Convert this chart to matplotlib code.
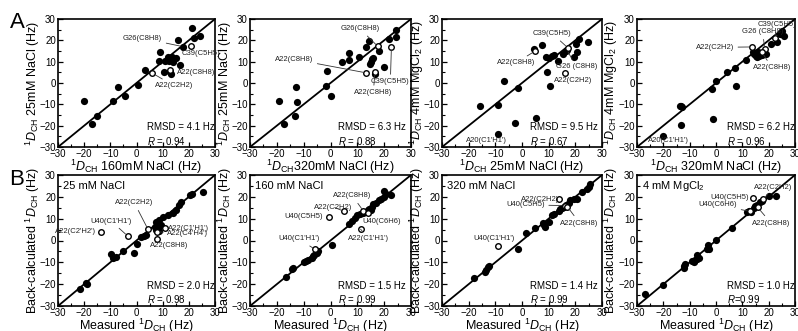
import matplotlib
matplotlib.use("Agg")
import matplotlib.pyplot as plt
from matplotlib.ticker import MultipleLocator

plt.rcParams['font.family'] = ['Liberation Sans', 'DejaVu Sans']
plt.rcParams['mathtext.fontset'] = 'custom'
plt.rcParams['mathtext.rm'] = 'Liberation Sans'
plt.rcParams['mathtext.it'] = 'Liberation Sans:italic'

# ---------------- data ----------------
# Panel A1: x = 160mM NaCl, y = 25mM NaCl
a1_x = [-20.2, -17.0, -15.0, -6.9, -9.1, -4.5, 0.4, 3.4, 9.1, 8.6, 10.6, 10.9, 11.9, 12.8, 13.2,
        13.4, 13.9, 12.4, 15.0, 16.6, 15.7, 17.9, 21.1, 22.1, 24.4]
a1_y = [-8.3, -19.4, -15.3, -1.7, -8.4, -5.9, -1.1, 6.1, 14.7, 10.5, 5.3, 10.3, 12.3, 5.0, 4.1,
        12.3, 10.0, 10.3, 11.6, 8.4, 20.2, 17.0, 25.6, 20.9, 22.2]
a1_open_x = [5.8, 12.7, 20.8]
a1_open_y = [4.8, 5.9, 17.5]

# Panel A2: x = 320mM NaCl, y = 25mM NaCl
a2_x = [-19.1, -17.5, -13.4, -12.7, -12.5, -1.3, -1.6, 0.1, 4.3, 7.0, 6.8, 10.6, 13.1, 14.2, 16.6,
        14.8, 15.5, 15.8, 15.1, 17.9, 20.0, 21.7, 24.4, 24.5]
a2_y = [-8.6, -19.4, -15.5, -2.1, -8.9, 5.5, -1.4, -6.1, 9.9, 10.6, 14.0, 12.2, 17.1, 19.7, 4.0,
        9.1, 11.1, 11.8, 10.0, 15.2, 7.5, 20.6, 24.9, 21.4]
a2_open_x = [13.1, 16.6, 17.6, 22.7]
a2_open_y = [4.8, 5.2, 17.2, 16.8]

# Panel A3: x = 25mM NaCl, y = 4mM MgCl2
a3_x = [-15.9, -9.1, -8.9, -6.6, -1.6, -2.5, 5.3, 4.5, 7.5, 9.5, 10.5, 9.1, 10.1, 11.4, 12.1,
        13.5, 15.4, 16.5, 16.8, 19.4, 20.1, 20.5, 21.4, 24.8]
a3_y = [-10.9, -10.2, -23.9, 0.8, -2.5, -18.9, -16.3, 15.8, 17.9, 5.0, -1.2, 12.3, 11.8, 12.7, 13.0,
        10.5, 13.8, 15.0, 15.6, 12.3, 18.1, 14.3, 20.7, 19.2]
a3_open_x = [4.8, 17.1, 16.3]
a3_open_y = [14.9, 16.6, 4.7]

# Panel A4: x = 320mM NaCl, y = 4mM MgCl2
a4_x = [-20.0, -13.4, -13.8, -12.8, -13.2, -1.1, -1.6, 0.1, 7.6, 7.2, 4.3, 11.5, 14.2, 14.5, 15.0,
        15.5, 16.5, 17.5, 16.0, 18.9, 21.0, 23.0, 25.2, 25.8, 24.3]
a4_y = [-25.0, -19.8, -10.9, -11.4, -10.6, -16.9, -3.0, 0.8, -1.5, 6.9, 5.1, 10.8, 14.6, 13.8, 12.8,
        12.3, 12.5, 13.3, 14.3, 13.8, 18.4, 19.2, 24.5, 21.9, 23.0]
a4_open_x = [13.8, 18.5, 17.5, 22.5]
a4_open_y = [16.9, 16.1, 14.3, 21.0]

# Panel B1: 25 mM NaCl, measured vs back-calculated
b1_x = [-21.5, -19.4, -19.0, -9.8, -8.8, -8.0, -5.3, -0.9, 0.0, 1.9, 2.8, 3.5, 6.9, 7.5, 8.5,
        9.4, 10.0, 11.9, 13.8, 15.0, 16.3, 16.9, 20.6, 21.3, 25.3, 7.5, 8.5]
b1_y = [-22.4, -19.4, -19.8, -6.4, -8.0, -7.5, -4.7, -5.7, -1.4, 1.4, 2.0, 2.5, 6.3, 8.6, 9.3,
        7.0, 10.6, 11.6, 12.4, 13.9, 16.2, 17.8, 20.8, 21.3, 22.0, 5.0, 4.5]
b1_open_x = [4.4, -3.4, -13.5, 10.9, 8.0, 7.9]
b1_open_y = [5.1, 2.1, 4.0, 5.8, 4.0, 0.8]

# Panel B2: 160 mM NaCl
b2_x = [-16.5, -14.5, -14.0, -10.0, -9.0, -8.5, -7.0, -6.5, -6.0, -5.0, -4.5, 0.5, 7.0, 8.0, 9.0,
        10.0, 11.0, 12.0, 13.0, 14.0, 14.5, 15.0, 15.5, 16.0, 17.0, 18.0, 19.0, 20.0, 20.5, 20.0, 22.5]
b2_y = [-16.5, -13.0, -12.5, -10.0, -9.5, -9.0, -8.0, -7.0, -6.5, -5.5, -5.0, -2.0, 7.5, 9.0, 10.5,
        11.5, 12.0, 12.5, 13.0, 14.0, 14.5, 14.0, 15.5, 16.5, 17.0, 18.5, 19.0, 20.0, 21.5, 22.5, 21.0]
b2_open_x = [-5.8, -0.5, 5.0, 12.2, 14.0, 11.2]
b2_open_y = [-4.0, 10.8, 13.4, 13.6, 12.8, 5.2]

# Panel B3: 320 mM NaCl
b3_x = [-17.9, -13.8, -12.9, -12.5, -13.5, -1.6, 1.5, 4.75, 7.9, 8.1, 8.5, 10.3, 11.25, 11.9, 13.75,
        14.4, 15.0, 15.6, 16.6, 17.5, 18.1, 19.4, 20.6, 22.5, 24.4, 25.3, 25.4]
b3_y = [-17.0, -14.4, -12.1, -11.5, -13.5, -4.1, 3.5, 5.8, 8.1, 6.9, 6.3, 8.3, 11.9, 12.0, 13.6,
        14.2, 14.7, 15.5, 16.2, 17.0, 18.5, 18.8, 18.8, 22.3, 23.4, 24.5, 26.0]
b3_open_x = [-9.1, 13.75, 16.0, 17.0]
b3_open_y = [-2.3, 19.1, 16.0, 15.5]

# Panel B4: 4 mM MgCl2
b4_x = [-26.8, -20.1, -12.3, -12.0, -11.8, -7.8, -7.2, -6.6, -7.2, -3.4, -2.8, -3.2, 0.0, 6.1, 11.8,
        12.5, 13.2, 14.3, 14.9, 15.6, 16.6, 17.5, 20.0, 22.9, -9.0, -8.5]
b4_y = [-24.6, -20.4, -11.8, -12.8, -10.8, -9.1, -8.3, -7.8, -6.7, -4.0, -3.7, -2.1, 0.1, 5.5, 13.1,
        13.6, 13.0, 14.9, 15.7, 16.4, 17.5, 18.0, 20.2, 20.2, -9.5, -10.0]
b4_open_x = [13.9, 18.0, 13.0, 15.8]
b4_open_y = [19.4, 18.8, 13.3, 15.2]

rmsd_texts = ["RMSD = 4.1 Hz", "RMSD = 6.3 Hz", "RMSD = 9.5 Hz", "RMSD = 6.2 Hz",
              "RMSD = 2.0 Hz", "RMSD = 1.5 Hz", "RMSD = 1.4 Hz", "RMSD = 1.0 Hz"]
r_texts = [r"$R$ = 0.94", r"$R$ = 0.88", r"$R$ = 0.67", r"$R$ = 0.96",
           r"$R$ = 0.98", r"$R$ = 0.99", r"$R$ = 0.99", r"$R$=0.99"]

D = r"${}^{1}D_{\rm CH}$"
xlabels_a = [D + " 160mM NaCl (Hz)", D + "320mM NaCl (Hz)", D + " 25mM NaCl (Hz)", D + " 320mM NaCl (Hz)"]
ylabels_a = [D + " 25mM NaCl (Hz)", D + " 25mM NaCl (Hz)", D + r" 4mM MgCl$_2$ (Hz)", D + r" 4mM MgCl$_2$ (Hz)"]
cond_b = ["25 mM NaCl", "160 mM NaCl", "320 mM NaCl", r"4 mM MgCl$_2$"]

# ---------------- layout ----------------
W, H = 798, 331
fig = plt.figure(figsize=(W / 100, H / 100), dpi=100)
lefts = [58, 250, 442, 637]
rights = [215, 411, 602, 795]
rows = [(19, 147), (175, 306)]

def make_ax(col, row):
    l, r = lefts[col], rights[col]
    t, b = rows[row]
    ax = fig.add_axes([l / W, 1 - b / H, (r - l) / W, (b - t) / H])
    ax.set_xlim(-30, 30)
    ax.set_ylim(-30, 30)
    ax.xaxis.set_major_locator(MultipleLocator(10))
    ax.yaxis.set_major_locator(MultipleLocator(10))
    ax.xaxis.set_minor_locator(MultipleLocator(5))
    ax.yaxis.set_minor_locator(MultipleLocator(5))
    ax.tick_params(which='both', direction='in', labelsize=7, pad=1.5)
    ax.tick_params(which='major', length=3.5, width=0.9)
    ax.tick_params(which='minor', length=2, width=0.8)
    for s in ax.spines.values():
        s.set_linewidth(1.2)
    ax.plot([-30, 30], [-30, 30], color='black', lw=1.3, zorder=1)
    return ax

def scatter(ax, x, y, ox, oy):
    ax.scatter(x, y, s=27, color='black', zorder=3, linewidths=0)
    ax.scatter(ox, oy, s=16, facecolor='white', edgecolor='black', linewidths=1.0, zorder=4)

def note(ax, text, xy, xytext, ha='center', line=True):
    ap = dict(arrowstyle='-', lw=0.6, color='#333333', shrinkA=1, shrinkB=2) if line else None
    ax.annotate(text, xy=xy, xytext=xytext, fontsize=5.5, ha=ha, va='center',
                color='#222222', arrowprops=ap, zorder=5)

def stats(ax, i, xf):
    ax.text(xf, 0.155, rmsd_texts[i], transform=ax.transAxes, fontsize=7, va='center', ha='left')
    ax.text(xf, 0.05, r_texts[i], transform=ax.transAxes, fontsize=7, va='center', ha='left')

# Row A
axA = [make_ax(c, 0) for c in range(4)]
scatter(axA[0], a1_x, a1_y, a1_open_x, a1_open_y)
scatter(axA[1], a2_x, a2_y, a2_open_x, a2_open_y)
scatter(axA[2], a3_x, a3_y, a3_open_x, a3_open_y)
scatter(axA[3], a4_x, a4_y, a4_open_x, a4_open_y)
for c, ax in enumerate(axA):
    ax.set_xlabel(xlabels_a[c], fontsize=9, labelpad=-1)
    ax.set_ylabel(ylabels_a[c], fontsize=9, labelpad=-1.5)

ax = axA[0]
note(ax, "G26(C8H8)", (a1_x[21], a1_y[21]), (9.8, 21.0), ha='right')
note(ax, "C39(C5H5)", (a1_open_x[2], a1_open_y[2]), (17.3, 13.6), ha='left', line=False)
note(ax, "A22(C8H8)", (a1_open_x[1], a1_open_y[1]), (15.5, 5.1), ha='left')
note(ax, "A22(C2H2)", (a1_open_x[0], a1_open_y[0]), (7.1, -1.4), ha='left')

ax = axA[1]
note(ax, "G26(C8H8)", (a2_open_x[2], a2_open_y[2]), (11.0, 25.4))
note(ax, "A22(C8H8)", (a2_open_x[0], a2_open_y[0]), (-20.7, 11.1), ha='left')
note(ax, "C39(C5H5)", (a2_open_x[3], a2_open_y[3]), (15.1, 0.5), ha='left')
note(ax, "A22(C8H8)", (a2_open_x[1], a2_open_y[1]), (8.8, -4.6), ha='left')

ax = axA[2]
note(ax, "C39(C5H5)", (a3_open_x[1], a3_open_y[1]), (11.4, 23.1))
note(ax, "A22(C8H8)", (a3_open_x[0], a3_open_y[0]), (-2.3, 9.4))
note(ax, "G26 (C8H8)", (a3_x[18], a3_y[18]), (20.4, 7.6))
note(ax, "A22(C2H2)", (a3_open_x[2], a3_open_y[2]), (19.3, 1.1), line=False)
note(ax, "A20(C1'H1')", (a3_x[2], a3_y[2]), (-13.5, -26.8), line=False)

ax = axA[3]
note(ax, "C39(C5H5)", (a4_open_x[3], a4_open_y[3]), (23.0, 27.3))
note(ax, "G26 (C8H8)", (a4_open_x[1], a4_open_y[1]), (17.7, 24.0))
note(ax, "A22(C2H2)", (a4_open_x[0], a4_open_y[0]), (6.8, 16.7), ha='right')
note(ax, "A22(C8H8)", (a4_open_x[2], a4_open_y[2]), (21.3, 7.1))
note(ax, "A20(C1'H1')", (a4_x[0], a4_y[0]), (-18.2, -26.8), line=False)

# Row B
axB = [make_ax(c, 1) for c in range(4)]
scatter(axB[0], b1_x, b1_y, b1_open_x, b1_open_y)
scatter(axB[1], b2_x, b2_y, b2_open_x, b2_open_y)
scatter(axB[2], b3_x, b3_y, b3_open_x, b3_open_y)
scatter(axB[3], b4_x, b4_y, b4_open_x, b4_open_y)
for c, ax in enumerate(axB):
    ax.set_xlabel("Measured " + D + " (Hz)", fontsize=9, labelpad=-1)
    ax.set_ylabel("Back-calculated " + D + " (Hz)", fontsize=9, labelpad=-1.5)
    ax.text(0.03, 0.915, cond_b[c], transform=ax.transAxes, fontsize=8, ha='left', va='center')

ax = axB[0]
note(ax, "A22(C2H2)", (b1_open_x[0], b1_open_y[0]), (-0.8, 17.2))
note(ax, "U40(C1'H1')", (b1_open_x[1], b1_open_y[1]), (-9.7, 8.9))
note(ax, "A22(C2'H2')", (b1_open_x[2], b1_open_y[2]), (-15.5, 4.0), ha='right', line=False)
note(ax, "A22(C1'H1')", (b1_open_x[3], b1_open_y[3]), (12.1, 5.7), ha='left', line=False)
note(ax, "A22(C4'H4')", (b1_open_x[4], b1_open_y[4]), (11.8, 3.0), ha='left')
note(ax, "A22(C8H8)", (b1_open_x[5], b1_open_y[5]), (12.5, -2.1), line=False)

ax = axB[1]
note(ax, "U40(C1'H1')", (b2_open_x[0], b2_open_y[0]), (-11.9, 0.7))
note(ax, "U40(C5H5)", (b2_open_x[1], b2_open_y[1]), (-2.8, 10.8), ha='right', line=False)
note(ax, "A22(C2H2)", (b2_open_x[2], b2_open_y[2]), (1.1, 15.3))
note(ax, "A22(C8H8)", (b2_open_x[3], b2_open_y[3]), (8.2, 20.4))
note(ax, "U40(C6H6)", (b2_open_x[4], b2_open_y[4]), (19.0, 8.5))
note(ax, "A22(C1'H1')", (b2_open_x[5], b2_open_y[5]), (14.2, 1.1))

ax = axB[2]
note(ax, "U40(C1'H1')", (b3_open_x[0], b3_open_y[0]), (-10.5, 0.7), line=False)
note(ax, "A22(C2H2)", (b3_open_x[1], b3_open_y[1]), (6.9, 19.0), line=False)
note(ax, "U40(C5H5)", (b3_open_x[2], b3_open_y[2]), (1.3, 16.3))
note(ax, "A22(C8H8)", (b3_open_x[3], b3_open_y[3]), (21.6, 8.0))

ax = axB[3]
note(ax, "U40(C5H5)", (b4_open_x[0], b4_open_y[0]), (12.5, 19.9), ha='right', line=False)
note(ax, "A22(C2H2)", (b4_open_x[1], b4_open_y[1]), (21.8, 24.5))
note(ax, "U40(C6H6)", (b4_open_x[2], b4_open_y[2]), (8.0, 16.3), ha='right')
note(ax, "A22(C8H8)", (b4_open_x[3], b4_open_y[3]), (20.9, 8.0))

xfs = [0.567, 0.547, 0.55, 0.57]
for c in range(4):
    stats(axA[c], c, xfs[c])
    stats(axB[c], c + 4, xfs[c])

fig.text(17 / W, 1 - 22 / H, "A", fontsize=16, ha='center', va='center')
fig.text(17 / W, 1 - 179 / H, "B", fontsize=16, ha='center', va='center')

fig.savefig("out.png", dpi=100)
